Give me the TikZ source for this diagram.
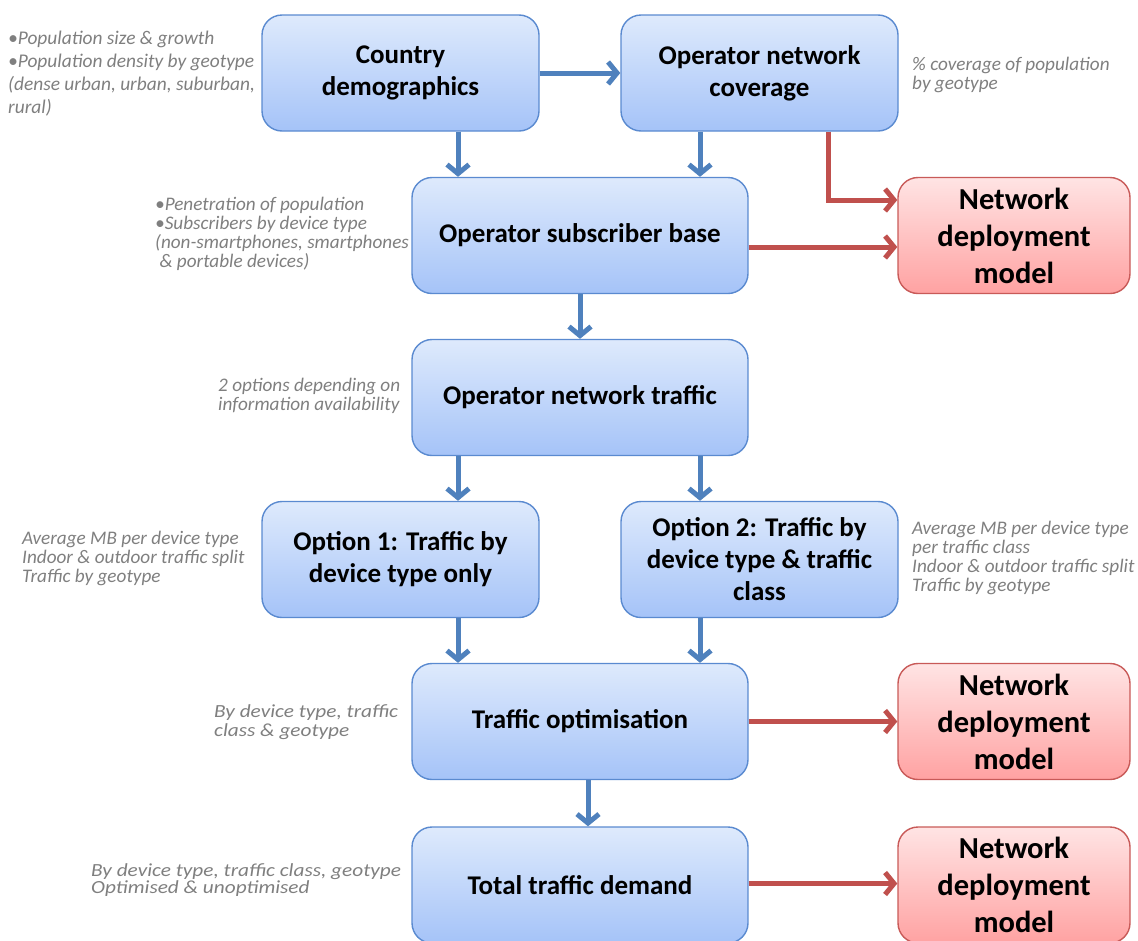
\documentclass[tikz,border=0pt]{standalone}
\usepackage{fontspec}
\setmainfont{Carlito}
\newfontfamily\widenote[FakeStretch=1.15]{Carlito}
\usetikzlibrary{arrows.meta}
\definecolor{boxblueT}{HTML}{DEEAFC}
\definecolor{boxblueB}{HTML}{A5C3F8}
\definecolor{boxblueL}{HTML}{5A8AD0}
\definecolor{boxredT}{HTML}{FFE4E4}
\definecolor{boxredB}{HTML}{FFA2A2}
\definecolor{boxredL}{HTML}{C85A58}
\definecolor{flowblue}{HTML}{4F81BD}
\definecolor{flowred}{HTML}{C0504D}
\definecolor{notegray}{HTML}{7F7F7F}
\tikzset{
  stagebox/.style={draw=boxblueL, line width=1.4pt, rounded corners=20pt,
    top color=boxblueT, bottom color=boxblueB, align=center,
    minimum width=277pt, minimum height=116pt, inner sep=2pt,
    font=\bfseries\fontsize{27}{32}\selectfont},
  widebox/.style={stagebox, minimum width=336pt},
  modelbox/.style={draw=boxredL, line width=1.4pt, rounded corners=20pt,
    top color=boxredT, bottom color=boxredB, align=center,
    minimum width=232pt, minimum height=116pt, inner sep=2pt,
    font=\bfseries\fontsize{30.5}{37}\selectfont},
  note/.style={anchor=west, align=left, inner sep=0pt, text=notegray,
    font=\itshape\fontsize{19.2}{19}\selectfont},
  widenotestyle/.style={note, font=\widenote\itshape\fontsize{18.5}{#1}\selectfont},
  blueflow/.style={draw=flowblue, line width=5pt,
    -{Straight Barb[length=9pt,width=22pt,line width=5pt]}},
  redflow/.style={draw=flowred, line width=5pt,
    -{Straight Barb[length=9pt,width=22pt,line width=5pt]}},
}
\begin{document}
\begin{tikzpicture}[x=1pt,y=-1pt]
\useasboundingbox (0,0) rectangle (1138,940);
\clip (0,0) rectangle (1138,940);

% process stages
\node[stagebox] (demo) at (400.5,73) {Country\\demographics};
\node[stagebox] (cov)  at (759.5,73) {Operator network\\coverage};
\node[widebox]  (subs) at (580,235.5) {Operator subscriber base};
\node[widebox]  (traf) at (580,397.5) {Operator network traffic};
\node[stagebox] (opt1) at (400.5,559.5) {Option 1: Traffic by\\device type only};
\node[stagebox] (opt2) at (759.5,559.5) {Option 2: Traffic by\\device type \& traffic\\class};
\node[widebox]  (optim) at (580,721.5) {Traffic optimisation};
\node[widebox]  (total) at (580,885) {Total traffic demand};

% deployment model outputs
\node[modelbox] (ndmA) at (1014,235.5) {Network\\deployment\\model};
\node[modelbox] (ndmB) at (1014,721.5) {Network\\deployment\\model};
\node[modelbox] (ndmC) at (1014,885) {Network\\deployment\\model};

% side notes
\node[note, font=\itshape\fontsize{19.4}{23}\selectfont] (nDemo) at (8,73.5)
  {•Population size \& growth\\•Population density by geotype\\(dense urban, urban, suburban,\\rural)};
\node[note] (nCov) at (912,74.5) {\% coverage of population\\by geotype};
\node[note] (nSubs) at (155,234) {•Penetration of population\\•Subscribers by device type\\(non-smartphones, smartphones\\\ \& portable devices)};
\node[note] (nTraf) at (218,396) {2 options depending on\\information availability};
\node[note] (nOpt1) at (22,558.5) {Average MB per device type\\Indoor \& outdoor traffic split\\Traffic by geotype};
\node[note] (nOpt2) at (912,557.5) {Average MB per device type\\per traffic class\\Indoor \& outdoor traffic split\\Traffic by geotype};
\node[widenotestyle=19] (nOptim) at (214,722.5) {By device type, traffic\\class \& geotype};
\node[widenotestyle=15] (nTotal) at (91,880.5) {By device type, traffic class, geotype\\Optimised \& unoptimised};

% flow between stages
\draw[blueflow] (demo.east) -- (cov.west);
\draw[blueflow] ([xshift=57.5pt]demo.south) -- ([xshift=57.5pt]demo.south |- subs.north);
\draw[blueflow] ([xshift=-59.5pt]cov.south) -- ([xshift=-59.5pt]cov.south |- subs.north);
\draw[blueflow] (subs.south) -- (traf.north);
\draw[blueflow] ([xshift=57.5pt]opt1.north |- traf.south) -- ([xshift=57.5pt]opt1.north);
\draw[blueflow] ([xshift=-59.5pt]opt2.north |- traf.south) -- ([xshift=-59.5pt]opt2.north);
\draw[blueflow] ([xshift=57.5pt]opt1.south) -- ([xshift=57.5pt]opt1.south |- optim.north);
\draw[blueflow] ([xshift=-59.5pt]opt2.south) -- ([xshift=-59.5pt]opt2.south |- optim.north);
\draw[blueflow] ([xshift=8pt]optim.south) -- ([xshift=8pt]optim.south |- total.north);

% feeds into deployment model
\draw[redflow] ([xshift=68.5pt]cov.south) |- ([yshift=35.5pt]ndmA.west);
\draw[redflow] ([yshift=-11.5pt]subs.east) -- ([yshift=-11.5pt]ndmA.west);
\draw[redflow] (optim.east) -- (ndmB.west);
\draw[redflow] ([yshift=1.5pt]total.east) -- ([yshift=1.5pt]total.east -| ndmC.west);
\end{tikzpicture}
\end{document}
